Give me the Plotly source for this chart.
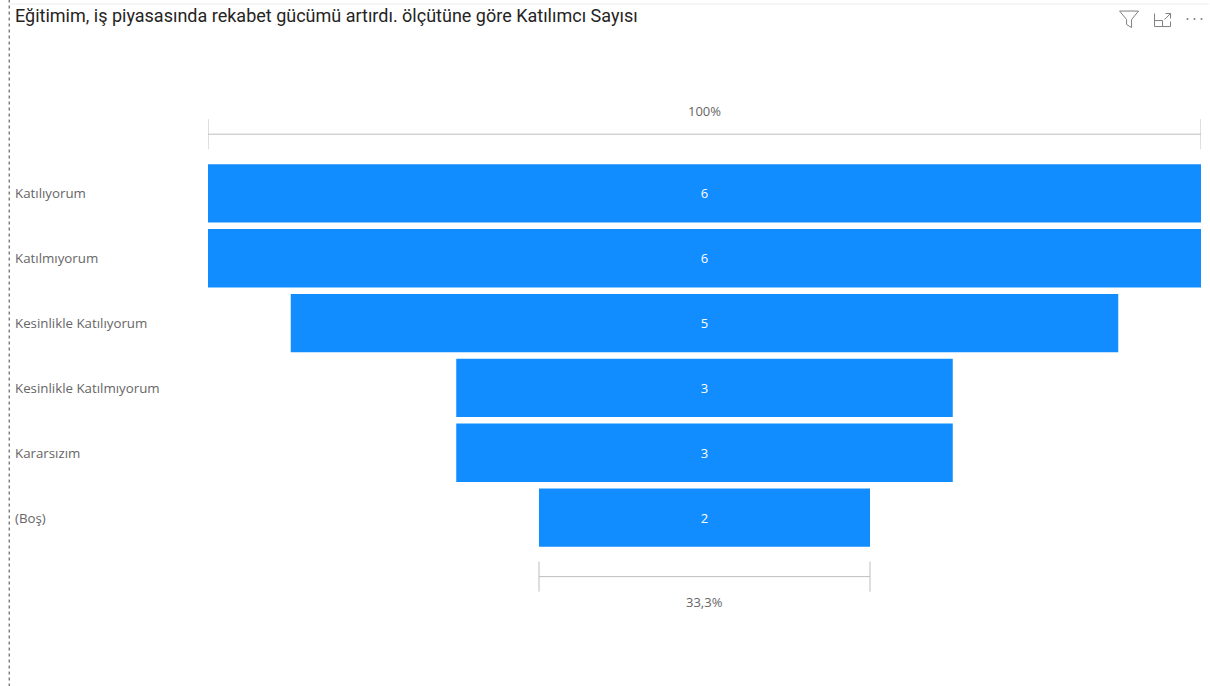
import plotly.graph_objects as go

categories = ["Katılıyorum", "Katılmıyorum", "Kesinlikle Katılıyorum",
              "Kesinlikle Katılmıyorum", "Kararsızım", "(Boş)"]
values = [6, 6, 5, 3, 3, 2]
title_text = "Eğitimim, iş piyasasında rekabet gücümü artırdı. ölçütüne göre Katılımcı Sayısı"
top_label = "100%"
bottom_label = "33,3%"

W, H = 1210, 686
L, R, T, B = 207.5, 1201.5, 161.3, 549.9
BAR = "#118DFF"
TXT = "#666666"
RULE = "#BDBDBD"


def px(x):
    return (x - L) / (R - L)


def py(y):
    return (B - y) / (B - T)


shapes, annotations = [], []


def paper_line(x0, y0, x1, y1, color, width=1, dash="solid"):
    shapes.append(dict(type="line", xref="paper", yref="paper", x0=px(x0), y0=py(y0), x1=px(x1), y1=py(y1),
                       line=dict(color=color, width=width, dash=dash)))


def bracket(value, y_mid, y_half, label, label_y):
    half = value / 2
    shapes.append(dict(type="line", xref="x", yref="paper", x0=-half, x1=half, y0=py(y_mid), y1=py(y_mid),
                       line=dict(color=RULE, width=1)))
    for sx in (-half, half):
        shapes.append(dict(type="line", xref="x", yref="paper", x0=sx, x1=sx,
                           y0=py(y_mid - y_half), y1=py(y_mid + y_half), line=dict(color=RULE, width=1)))
    annotations.append(dict(xref="x", yref="paper", x=0, y=py(label_y), text=label, showarrow=False,
                            yanchor="middle", font=dict(family="Open Sans", size=13, color=TXT)))


bracket(max(values), 134.5, 15, top_label, 111)
bracket(values[-1], 576.5, 15, bottom_label, 602)

# frame of the visual
paper_line(8.5, 0, 8.5, 686, "#444444", 1, "dot")
paper_line(9, 4.5, 1210, 4.5, "#EDEDED", 1)

# header icons
ICON = "#7F7F7F"
shapes.append(dict(type="path", xref="paper", yref="paper", line=dict(color=ICON, width=1),
                   path=f"M {px(1120)} {py(11.5)} L {px(1139)} {py(11.5)} L {px(1132)} {py(20)} L {px(1132)} {py(28)} "
                        f"L {px(1127)} {py(25)} L {px(1127)} {py(20)} Z"))
shapes.append(dict(type="path", xref="paper", yref="paper", line=dict(color=ICON, width=1),
                   path=f"M {px(1155)} {py(14)} L {px(1155)} {py(27)} L {px(1171)} {py(27)} L {px(1171)} {py(22)} "
                        f"M {px(1155)} {py(21)} L {px(1163)} {py(21)} L {px(1163)} {py(27)} "
                        f"M {px(1165)} {py(20)} L {px(1171)} {py(14)} M {px(1166)} {py(14)} L {px(1171)} {py(14)} L {px(1171)} {py(19)}"))
for dx in (1188, 1195, 1202):
    shapes.append(dict(type="circle", xref="paper", yref="paper", x0=px(dx - 1), x1=px(dx + 1), y0=py(18.5), y1=py(20.5),
                       fillcolor=ICON, line=dict(width=0)))

# left-aligned category labels
for c in categories:
    annotations.append(dict(xref="paper", yref="y", x=px(12.5), y=c, text=c, xanchor="left", yanchor="middle",
                            showarrow=False, font=dict(family="Open Sans", size=13.3, color=TXT)))

annotations.append(dict(xref="paper", yref="paper", x=px(12.5), y=py(16), text=title_text, xanchor="left",
                        yanchor="middle", showarrow=False, font=dict(family="Roboto", size=18, color="#252423")))

fig = go.Figure(go.Funnel(
    y=categories, x=values, orientation="h",
    marker=dict(color=BAR, line=dict(width=0)),
    connector=dict(visible=False),
    textinfo="value", textposition="inside", insidetextanchor="middle",
    textfont=dict(family="Open Sans", size=13, color="#FFFFFF"),
))
fig.update_layout(
    width=W, height=H, autosize=False,
    margin=dict(l=L, r=W - R, t=T, b=H - B),
    paper_bgcolor="white", plot_bgcolor="white", showlegend=False,
    funnelgap=0.1,
    shapes=shapes, annotations=annotations,
    xaxis=dict(range=[-max(values) / 2, max(values) / 2], visible=False),
    yaxis=dict(type="category", autorange="reversed", showticklabels=False, showline=False,
               showgrid=False, zeroline=False, ticks=""),
)
fig.write_html("out.html", config={"displayModeBar": False},
               post_script="document.body.style.margin='0';")
